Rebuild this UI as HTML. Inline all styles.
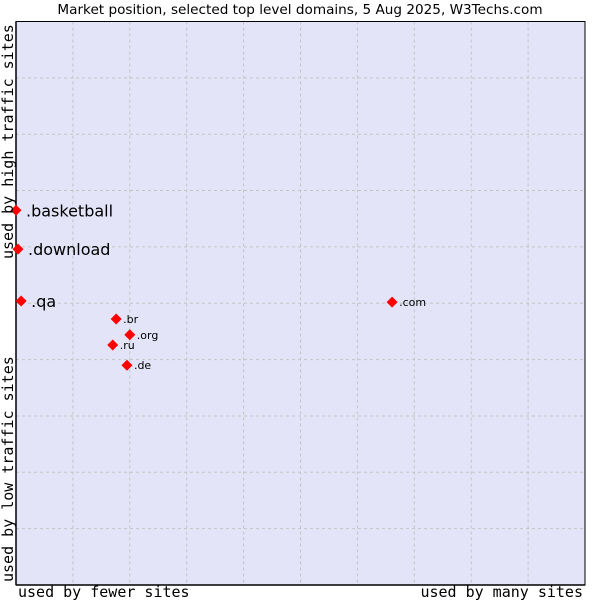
<!DOCTYPE html>
<html><head><meta charset="utf-8"><style>
body{margin:0;background:#fff;}
svg text{font-family:"DejaVu Sans","Liberation Sans",sans-serif;}
.mono{font-family:"DejaVu Sans Mono","Liberation Mono",monospace !important;}
</style></head><body>
<svg width="600" height="600" id="chart">
<rect width="600" height="600" fill="#fff"/>
<text x="300" y="14" text-anchor="middle" font-size="13.6">Market position, selected top level domains, 5 Aug 2025, W3Techs.com</text>
<rect x="16" y="21.5" width="569" height="563.5" fill="#e3e4f8"/>
<g id="grid"></g>
<line x1="16" y1="21.5" x2="16" y2="585" stroke="#000" stroke-width="1.5"/>
<line x1="16" y1="585" x2="585" y2="585" stroke="#000" stroke-width="1.5"/>
<rect x="16" y="21.5" width="569" height="563.5" fill="none" stroke="#000" stroke-width="1"/>
<g id="points"></g>
<text class="mono" x="18" y="597" font-size="15">used by fewer sites</text>
<text class="mono" x="583" y="597" font-size="15" text-anchor="end">used by many sites</text>
<text class="mono" transform="translate(13,259) rotate(-90)" font-size="15">used by high traffic sites</text>
<text class="mono" transform="translate(13,582) rotate(-90)" font-size="15">used by low traffic sites</text>
</svg>
<script>
const domains=[".basketball",".download",".qa",".br",".org",".ru",".de",".com"];
const usage=[0,0.35,0.9,17.6,20.0,17.0,19.5,66.1];
const traffic=[66.5,59.6,50.4,47.2,44.4,42.6,39.0,50.2];
const big=[true,true,true,false,false,false,false,false];
const X0=16,X1=585,Y0=585,Y1=21.5;
const sx=v=>X0+(X1-X0)*v/100;
const sy=v=>Y0-(Y0-Y1)*v/100;
const NS="http://www.w3.org/2000/svg";
const grid=document.getElementById('grid');
for(let i=1;i<10;i++){
  const v=document.createElementNS(NS,'line');
  v.setAttribute('x1',sx(i*10));v.setAttribute('x2',sx(i*10));v.setAttribute('y1',Y1);v.setAttribute('y2',Y0);
  v.setAttribute('stroke','#c4c4c4');v.setAttribute('stroke-dasharray','3,3');
  
  
  grid.appendChild(v);
  const h=document.createElementNS(NS,'line');
  h.setAttribute('y1',sy(i*10));h.setAttribute('y2',sy(i*10));h.setAttribute('x1',X0);h.setAttribute('x2',X1);
  h.setAttribute('stroke','#c4c4c4');h.setAttribute('stroke-dasharray','3,3');
  
  
  grid.appendChild(h);
}
const pts=document.getElementById('points');
domains.forEach((d,i)=>{
  const x=sx(usage[i]),y=sy(traffic[i]);
  const p=document.createElementNS(NS,'polygon');
  const r=5.5;
  p.setAttribute('points',`${x},${y-r} ${x+r},${y} ${x},${y+r} ${x-r},${y}`);
  p.setAttribute('fill','#f00');
  
  
  pts.appendChild(p);
  const t=document.createElementNS(NS,'text');
  t.setAttribute('x',x+(big[i]?10:7));
  t.setAttribute('y',y+(big[i]?6:4));
  t.setAttribute('font-size',big[i]?16:11);
  t.textContent=d;
  
  
  pts.appendChild(t);
});
</script>
</body></html>
